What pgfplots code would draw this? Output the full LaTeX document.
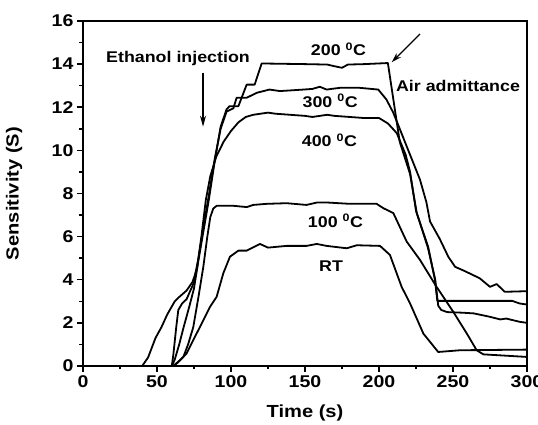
\documentclass[border=0pt]{standalone}
\usepackage{fontspec}
\setmainfont{Liberation Sans}[FakeStretch=1.15]
\usepackage{pgfplots}
\pgfplotsset{compat=1.18}
\usetikzlibrary{arrows.meta}

\begin{document}
\begin{tikzpicture}
\begin{axis}[
    name=ax,
    scale only axis,
    width=444pt, height=345pt,
    xmin=0, xmax=300, ymin=0, ymax=16,
    xtick={0,50,...,300}, ytick={0,2,...,16},
    minor x tick num=1, minor y tick num=1,
    tick align=outside, xtick pos=left, ytick pos=left,
    major tick length=6pt, minor tick length=3.5pt,
    axis line style={line width=2pt},
    every tick/.style={line width=1.5pt, black},
    ticklabel style={font=\fontsize{17}{19}\selectfont\bfseries},
    /pgf/number format/assume math mode=true,
    xlabel={Time (s)}, ylabel={Sensitivity (S)},
    label style={font=\fontsize{17.5}{20}\selectfont\bfseries},
    xlabel style={at={(axis description cs:0.5,-0.135)}, anchor=center},
    ylabel style={at={(axis description cs:-0.155,0.5)}, anchor=center},
    every axis plot post/.append style={black, line width=1.8pt, mark=none, line join=round},
]
% RT
\addplot coordinates {
(0,0) (61,0) (65.5,0.27) (70,0.58) (74.5,1.2) (79,1.81) (85.8,2.74) (90.3,3.21)
(94.8,4.3) (99.3,5.07) (105,5.35) (110.6,5.35) (119.6,5.66) (125,5.49) (137.6,5.57)
(151,5.57) (158,5.66) (164.6,5.57) (178.2,5.46) (185,5.6) (200.7,5.57) (207.4,5.15)
(215.3,3.67) (221,2.9) (230,1.5) (240,0.65) (254.7,0.73) (300,0.76)
};
% 100 C
\addplot coordinates {
(0,0) (61,0) (64,0.15) (67.8,0.42) (71,1.0) (74.5,1.8) (78,3.2) (81.3,4.6) (84,6.0)
(86,6.9) (88,7.3) (90.3,7.43) (101.6,7.43) (110.6,7.37) (115,7.47) (124,7.52)
(137.6,7.55) (151,7.47) (158,7.58) (165.5,7.58) (180.4,7.52) (198.4,7.52) (202.9,7.32)
(209.7,7.09) (218.7,5.77) (227.7,4.92) (238.9,3.67) (250.2,2.51) (259.3,1.51)
(266,0.73) (270.5,0.54) (300,0.42)
};
% 200 C
\addplot coordinates {
(0,0) (60,0) (62,0.3) (65,1.0) (68,1.8) (72,2.8) (75,3.6) (78,4.9) (81,6.1) (85,7.7)
(89,9.5) (93,11.1) (97,11.9) (99,12.05) (105,12.05) (110.6,13.05) (116,13.05)
(120.7,14.03) (150,14.0) (165,13.98) (170,13.9) (175,13.83) (179,13.98) (190,14.0)
(206,14.05) (214,10.4) (221,8.9) (225.5,7.1) (233.3,5.5) (237.8,4.0) (239.4,3.02)
(290,3.02) (295,2.9) (300,2.85)
};
% 300 C
\addplot coordinates {
(0,0) (60,0) (61,0.5) (63,1.8) (64.4,2.6) (67,2.9) (70,3.1) (74.5,3.8) (78,5.0)
(81,6.3) (85,7.9) (89,9.6) (93,11.0) (97,11.8) (101.6,11.95) (103.8,12.44)
(110.6,12.44) (117.4,12.67) (126,12.82) (133,12.75) (140,12.78) (149,12.82)
(155,12.85) (160,12.95) (164.6,12.82) (170,12.87) (173.6,12.9) (187,12.9)
(199.5,12.82) (205,12.36) (209.7,11.74) (218.7,10.19) (227.7,8.64) (232,7.6)
(234.5,6.7) (241,5.9) (246.8,5.07) (251.4,4.6) (258,4.4) (268,4.07) (275,3.67)
(279.5,3.8) (285,3.44) (300,3.47)
};
% 400 C
\addplot coordinates {
(0,0) (40,0) (44,0.4) (49,1.3) (53,1.8) (57,2.4) (62,3.0) (65,3.2) (70,3.5)
(74,3.9) (77,4.5) (80,6.0) (83,7.7) (86,8.8) (90,9.7) (95,10.4) (100,10.9)
(105,11.3) (110,11.55) (115,11.65) (120,11.7) (125,11.75) (130,11.7) (140,11.65)
(150,11.6) (155,11.55) (160,11.6) (165,11.65) (170,11.6) (180,11.55) (190,11.5)
(200,11.5) (206,11.25) (212,10.8) (218,9.8) (221,9.0) (225,7.2) (233,5.5)
(238,4.0) (240,2.8) (242,2.6) (246,2.5) (257,2.47) (264,2.44) (275,2.28)
(282,2.16) (286,2.2) (295,2.05) (300,2.0)
};
\begin{scope}[every node/.style={font=\fontsize{15.5}{18}\selectfont\bfseries}]
\node at (axis cs:64.2,14.27) {Ethanol injection};
\node at (axis cs:172.6,14.68) {200 \textsuperscript{0}C};
\node at (axis cs:167,12.3) {300 \textsuperscript{0}C};
\node at (axis cs:166.5,10.45) {400 \textsuperscript{0}C};
\node at (axis cs:170.6,6.73) {100 \textsuperscript{0}C};
\node at (axis cs:167.6,4.64) {RT};
\node at (axis cs:253.4,13.0) {Air admittance};
\end{scope}
\draw[line width=1.2pt, -{Stealth[length=11pt,width=6pt]}] (axis cs:81.1,13.6) -- (axis cs:81.1,11.1);
\draw[line width=1.2pt, -{Stealth[length=10pt,width=6pt]}] (axis cs:227.7,15.4) -- (axis cs:208.6,14.09);
\end{axis}
\pgfresetboundingbox
\path (ax.south west) ++(-83pt,-59pt) rectangle ++(538pt,425pt);
\end{tikzpicture}
\end{document}
